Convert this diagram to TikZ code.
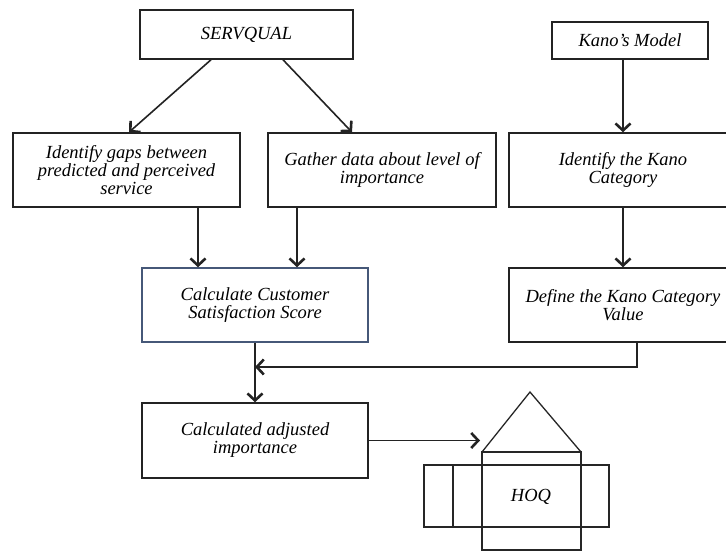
\documentclass[tikz,border=0pt]{standalone}
\usepackage{fontspec}
\setmainfont{Liberation Serif}
\usetikzlibrary{arrows.meta}
\definecolor{lineg}{RGB}{35,35,35}
\definecolor{slate}{RGB}{70,88,120}
\tikzset{
  box/.style={draw=lineg, line width=1.5pt, rectangle, align=center,
    font=\fontsize{18.5}{18}\selectfont\itshape, inner sep=0pt},
  arr/.style={draw=lineg, line width=1.6pt, -{Straight Barb[length=7pt,width=15pt,line width=2.6pt]}},
  hoqline/.style={draw=black!85, line width=1.3pt}
}
\begin{document}
\begin{tikzpicture}[x=1pt,y=-1pt]
\useasboundingbox (0,0) rectangle (726,551);
\fill[white] (0,0) rectangle (726,551);
\begin{scope}
\clip (0,0) rectangle (726,551);
\node[box, minimum width=213pt, minimum height=49pt] (serv) at (246.5,34.5) {SERVQUAL};
\node[box, minimum width=227pt, minimum height=74pt] (gaps) at (126.5,170) {Identify gaps between\\predicted and perceived\\service};
\node[box, minimum width=228pt, minimum height=74pt] (gath) at (382,170) {Gather data about level of\\importance};
\node[box, minimum width=156pt, minimum height=37pt] (kano) at (630,40.5) {Kano's Model};
\node[box, minimum width=228pt, minimum height=74pt] (idk) at (623,170) {Identify the Kano\\Category};
\node[box, draw=slate, minimum width=226pt, minimum height=74pt] (css) at (255,305) {Calculate Customer\\Satisfaction Score};
\node[box, minimum width=228pt, minimum height=74pt] (dkv) at (623,305) {Define the Kano Category\\Value};
\node[box, minimum width=226pt, minimum height=75pt] (adj) at (255,440.5) {Calculated adjusted\\importance};

\coordinate (j) at (255,367);
\coordinate (hin) at (480,441);

\draw[arr] ([xshift=-35.5pt]serv.south) -- ([xshift=2.5pt]gaps.north);
\draw[arr] ([xshift=36.5pt]serv.south) -- ([xshift=-30pt]gath.north);
\draw[arr] (kano.south -| idk.north) -- (idk.north);
\draw[arr] ([xshift=71.5pt]gaps.south) -- ([xshift=71.5pt]gaps.south |- css.north);
\draw[arr] ([xshift=-85pt]gath.south) -- ([xshift=-85pt]gath.south |- css.north);
\draw[arr] (idk.south) -- (dkv.north);
\draw[arr] ([xshift=14pt]dkv.south) |- (j);
\draw[arr] (css.south) -- (adj.north);
\draw[arr] (adj.east) -- (adj.east -| hin);

% House of Quality
\draw[hoqline] (482,452) -- (530,392) -- (581,452);
\draw[hoqline] (482,452) rectangle (581,550);
\draw[hoqline] (424,465) rectangle (609,527);
\draw[hoqline] (453,465) -- (453,527);
\node[font=\fontsize{18.5}{18}\selectfont\itshape] (hoq) at (531,497) {HOQ};
\end{scope}
\end{tikzpicture}
\end{document}
